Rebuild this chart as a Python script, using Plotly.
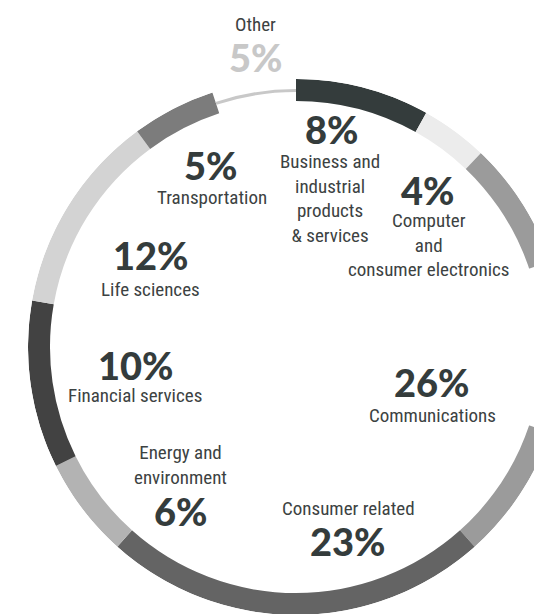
import math
import plotly.graph_objects as go

categories = ["Business and industrial products & services", "Computer and consumer electronics",
              "Communications", "Consumer related", "Energy and environment",
              "Financial services", "Life sciences", "Transportation", "Other"]
values = [8, 4, 26, 23, 6, 10, 12, 5, 5]
colors = ["#343c3c", "#ececec", "#9b9b9b", "#646464", "#b3b3b3", "#424242", "#d3d3d3", "#7c7c7c", "#c8c8c8"]

W, H = 542, 614
OFF = 8                     # page body margin offset of the plot div
CX, CY = 296 - OFF, 347 - OFF   # ring centre in figure px
R_OUT, R_IN = 268, 246

total = sum(values)
widths = [v / total * 360 for v in values]
starts = [sum(widths[:i]) for i in range(len(widths))]
thetas = [s + w / 2 for s, w in zip(starts, widths)]
bases = [R_IN if c != "Other" else 255 for c in categories]
lens = [R_OUT - R_IN if c != "Other" else 3 for c in categories]

fig = go.Figure()
fig.add_trace(go.Barpolar(
    r=lens, base=bases, theta=thetas, width=widths,
    marker=dict(color=colors, line=dict(width=0)),
    hoverinfo="text", text=categories, showlegend=False,
))

lab_font = "Roboto Condensed, Liberation Sans Narrow, DejaVu Sans Condensed, Roboto, sans-serif"
pct_font = "Lato, Inter, sans-serif"
dark = "#343c3c"
txt = "#3c4242"

# (text, page x, page y, colour)
pct_items = [
    ("8%", 331, 129, dark), ("4%", 427, 190, dark), ("26%", 432, 382, dark),
    ("23%", 348, 541, dark), ("6%", 180, 511, dark), ("10%", 136, 365, dark),
    ("12%", 151, 255, dark), ("5%", 210, 165, dark), ("5%", 255, 57, "#c8c8c8"),
]
label_items = [
    ("Business and<br>industrial<br>products<br>& services", 330, 198),
    ("Computer<br>and<br>consumer electronics", 428, 245),
    ("Communications", 432, 415),
    ("Consumer related", 348, 508),
    ("Energy and<br>environment", 180, 465),
    ("Financial services", 135, 396),
    ("Life sciences", 150, 289),
    ("Transportation", 212, 197),
    ("Other", 255, 24),
]

def P(x, y):
    return (x - OFF) / W, 1 - (y - OFF) / H

for t, x, y, col in pct_items:
    px, py = P(x, y)
    fig.add_annotation(x=px, y=py, xref="paper", yref="paper", text=t, showarrow=False,
                       xanchor="center", yanchor="middle",
                       font=dict(family=pct_font, size=38, color=col, weight=900))

for t, x, y in label_items:
    px, py = P(x, y)
    fig.add_annotation(x=px, y=py, xref="paper", yref="paper", text=t, showarrow=False,
                       xanchor="center", yanchor="middle",
                       font=dict(family=lab_font, size=19, color=txt))

# sector trimmed on the right so that the ring's bounding box fits the figure width
cut = math.degrees(math.acos((W - CX) / R_OUT))
fig.update_layout(
    width=W, height=H, margin=dict(l=0, r=0, t=0, b=0),
    paper_bgcolor="white", plot_bgcolor="white",
    polar=dict(
        domain=dict(x=[(CX - R_OUT) / W, 1], y=[1 - (CY + R_OUT) / H, 1 - (CY - R_OUT) / H]),
        sector=[cut, 360 - cut],
        bgcolor="rgba(0,0,0,0)",
        bargap=0,
        radialaxis=dict(range=[0, R_OUT], visible=False, showgrid=False, showline=False,
                        showticklabels=False, ticks=""),
        angularaxis=dict(rotation=90, direction="clockwise", visible=False, showgrid=False,
                         showline=False, showticklabels=False, ticks=""),
    ),
)

fig.write_html("out.html")
